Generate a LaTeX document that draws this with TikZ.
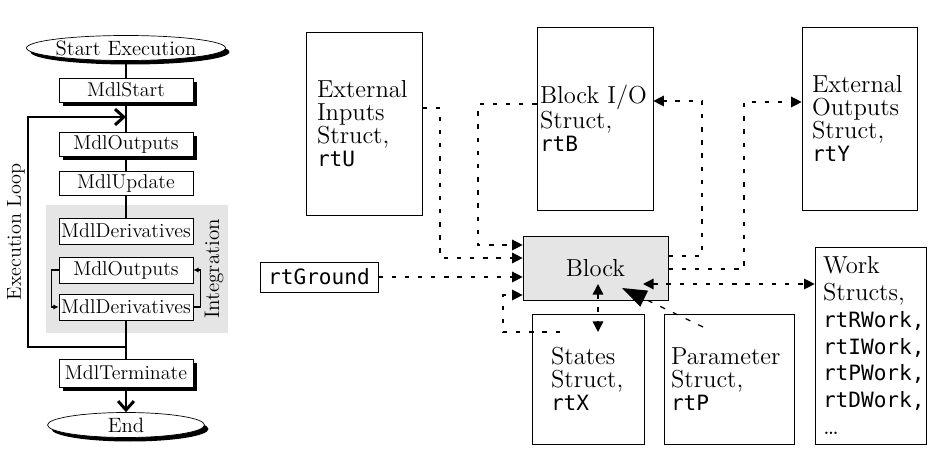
\documentclass[tikz,border=0pt]{standalone}
\usepackage{fontspec}
\setmonofont{DejaVu Sans Mono}
\usetikzlibrary{arrows.meta}
\usetikzlibrary{shapes.geometric}
\usetikzlibrary{shadows}
\newcommand{\cname}[1]{{\fontsize{12}{13}\selectfont\ttfamily #1}}
\tikzset{stepbox/.style={draw, fill=white, minimum width=2.68cm, minimum height=0.48cm,
   inner sep=0pt, font=\fontsize{11.4}{12}\selectfont},
 shadowed/.style={drop shadow={opacity=1, fill=black, shadow xshift=0.08cm, shadow yshift=-0.08cm}},
 terminal/.style={ellipse, draw, fill=white, minimum width=3.14cm, minimum height=0.5cm,
   inner sep=0pt, font=\fontsize{11.8}{12}\selectfont},
 flow/.style={line width=1.7pt},
 barb/.style={-{Straight Barb[length=5pt,width=9pt]}},
 structbox/.style={draw, align=left, inner ysep=0pt, font=\fontsize{14}{13}\selectfont},
 link/.style={line width=0.8pt, dash pattern=on 2.5pt off 5pt},
 looparrow/.style={line width=0.6pt, -{Latex[length=3pt,width=3pt]}},
 }

\begin{document}
\begin{tikzpicture}[x=0.02cm, y=-0.02cm, >={Triangle[length=6pt,width=6pt]}]
        \useasboundingbox (0,0) rectangle (950,466);
        \fill[gray!20] (46,205) rectangle (228,333);
        \node[terminal, shadowed] (start) at (126,48) {Start Execution};
        \node[stepbox, shadowed] (mstart) at (126,90) {MdlStart};
        \node[stepbox, shadowed] (mout) at (126,144) {MdlOutputs};
        \node[stepbox] (mupd) at (126,183) {MdlUpdate};
        \node[stepbox, minimum height=0.52cm] (mder) at (126,231) {MdlDerivatives};
        \node[stepbox, minimum height=0.52cm] (iout) at (126,270) {MdlOutputs};
        \node[stepbox, minimum height=0.52cm] (ider) at (126,307) {MdlDerivatives};
        \node[stepbox, shadowed, minimum height=0.56cm] (mterm) at (126,373) {MdlTerminate};
        \node[terminal, shadowed] (stop) at (126,425) {End};
        \coordinate (loopin) at (126,117);
        \coordinate (loopout) at (126,347);
        \draw[flow] (start) -- (mstart);
        \draw[flow] (mstart) -- (mout);
        \draw[flow] (mout) -- (mupd);
        \draw[flow] (mupd) -- (mder);
        \draw[flow] (ider) -- (mterm);
        \draw[flow, barb] (mterm) -- (stop);
        \draw[flow, barb] (loopout) -| (28,117) -- (loopin);
        \draw[looparrow] (iout.west) -- ++(-7,0) |- (ider.west);
        \draw[looparrow] (ider.east) -- ++(7,0) |- (iout.east);
        \node[rotate=90, font=\fontsize{11.5}{12}\selectfont] (looplabel) at (16,232) {Execution Loop};
        \node[rotate=90, font=\fontsize{12}{12}\selectfont] (intlabel) at (214,269) {Integration};

        \node[structbox, text width=1.88cm, inner xsep=0.22cm, minimum height=3.66cm] (extin) at (364,123.5)
            {External\\ Inputs\\ Struct,\\ \cname{rtU}};
        \node[structbox, text width=2.2cm, inner xsep=0.06cm, minimum height=3.66cm] (blockio) at (595,118.5)
            {Block I/O\\ Struct,\\ \cname{rtB}};
        \node[structbox, text width=1.9cm, inner xsep=0.2cm, minimum height=3.66cm] (extout) at (859.5,118.5)
            {External\\ Outputs\\ Struct,\\ \cname{rtY}};
        \node[draw, fill=gray!20, minimum width=2.9cm, minimum height=1.28cm,
            font=\fontsize{14}{13}\selectfont] (block) at (595.5,268) {Block};
        \node[draw, minimum width=2.36cm, minimum height=0.6cm, inner sep=0pt] (ground) at (319,277)
            {\cname{rtGround}};
        \node[structbox, text width=1.48cm, inner xsep=0.38cm, minimum height=2.6cm] (states) at (588,379)
            {States\\ Struct,\\ \cname{rtX}};
        \node[structbox, text width=2.32cm, inner xsep=0.14cm, minimum height=2.6cm] (param) at (729,379)
            {Parameter\\ Struct,\\ \cname{rtP}};
        \node[structbox, text width=1.9cm, inner xsep=0.16cm, minimum height=3.94cm,
            font=\fontsize{14}{15.3}\selectfont] (work) at (870.5,345.5)
            {Work\\ Structs,\\ \cname{rtRWork,}\\ \cname{rtIWork,}\\ \cname{rtPWork,}\\ \cname{rtDWork,}\\ \ldots};

        \coordinate (xfrom) at (560,332);
        \coordinate (xup) at (598,284);
        \coordinate (xdown) at (598,332);
        \coordinate (pfrom) at (703,327);
        \coordinate (ptip) at (622,288);
        \coordinate (wtip) at (643,284);
        \draw[link, ->] (extin.east |- 0,108) -| (440,258) -- (block.west |- 0,258);
        \draw[link, ->] (blockio.west |- 0,104) -| (478,245) -- (block.west |- 0,245);
        \draw[link, ->] (ground.east) -- (block.west |- ground.east);
        \draw[link, ->] (xfrom) -| (503,295) -- (block.west |- 0,295);
        \draw[link, <->] (xup) -- (xdown);
        \draw[line width=0.7pt, dash pattern=on 3pt off 5pt, -{Triangle[length=14pt,width=10pt]}] (pfrom) -- (ptip);
        \draw[link, ->] (block.east |- 0,256) -| (702,101) -- (blockio.east |- 0,101);
        \draw[link, ->] (block.east |- 0,269) -| (744,102) -- (extout.west |- 0,102);
        \draw[link, <->] (wtip) -- (work.west |- wtip);
    \end{tikzpicture}
\end{document}
